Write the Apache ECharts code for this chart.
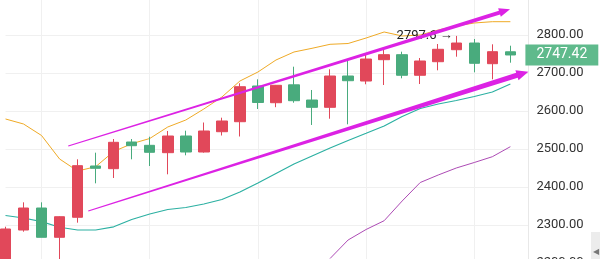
<!DOCTYPE html>
<html><head><meta charset="utf-8">
<script src="https://cdn.jsdelivr.net/npm/echarts@6/dist/echarts.min.js"></script>
<style>html,body{margin:0;padding:0;background:#fff}#c{width:600px;height:259px}</style>
</head><body><div id="c"></div>
<script>
// ---- data ----
const categories = ['1','2','3','4','5','6','7','8','9','10','11','12','13','14','15','16','17','18','19','20','21','22','23','24','25','26','27','28','29','30'];
const opens  = [2185, 2286.8, 2344.7, 2267.6, 2320.3, 2455.3, 2448.2, 2518.4, 2509.7, 2490.3, 2534.2, 2492.1, 2545.5, 2571.8, 2665.8, 2621.8, 2668.9, 2628.9, 2609.7, 2692.1, 2678.9, 2735.0, 2748.2, 2694.0, 2729.7, 2761.3, 2778.9, 2724.5, 2755.8];
const closes = [2289.5, 2344.7, 2267.6, 2321.8, 2456.1, 2449.2, 2517.6, 2508.7, 2491.3, 2534.2, 2492.1, 2547.4, 2573.7, 2663.9, 2622.4, 2667.6, 2627.1, 2609.7, 2692.1, 2679.7, 2736.8, 2748.2, 2694.0, 2731.6, 2762.4, 2778.9, 2725.5, 2756.1, 2747.42];
const lows   = [2170, 2282.4, 2267.6, 2195, 2306.1, 2409.7, 2423.7, 2472.9, 2455.3, 2433.4, 2483.4, 2490.5, 2535.5, 2532.9, 2605.3, 2610.0, 2621.8, 2563.2, 2579.7, 2565.0, 2670.3, 2668.4, 2686.0, 2671.0, 2707.1, 2742.9, 2701.8, 2683.4, 2727.1];
const highs  = [2295.5, 2359.7, 2359.7, 2322.9, 2472.9, 2490.3, 2526.3, 2526.3, 2532.4, 2547.4, 2548.2, 2569.7, 2582.4, 2672.9, 2683.4, 2668.5, 2716.6, 2655.3, 2709.7, 2734.2, 2747.4, 2762.4, 2756.1, 2739.5, 2776.3, 2797.6, 2789.5, 2775.5, 2771.8];
const maShort = [2579, 2565.8, 2535.5, 2473.7, 2442.1, 2453.4, 2493.4, 2513.9, 2527.6, 2557.9, 2576.3, 2605.3, 2636.8, 2678.9, 2702.6, 2734.2, 2755.3, 2765, 2775.5, 2777.6, 2792.1, 2807.9, 2797.4, 2800, 2813.2, 2823.7, 2831.6, 2835, 2835];
const maMid   = [2325, 2318.4, 2308.7, 2294, 2286.8, 2286.8, 2295.3, 2314.5, 2328.9, 2340.8, 2346.1, 2355.3, 2367.1, 2386.8, 2410.5, 2435.5, 2460.5, 2481.6, 2502.6, 2522.4, 2541.3, 2560.5, 2585.5, 2606.6, 2618.4, 2627.6, 2638.2, 2650, 2671.1];
const maLong  = ['-','-','-','-','-','-','-','-','-','-','-','-','-','-','-','-','-','-', 2211.8, 2260.5, 2288.2, 2311.3, 2363.2, 2411.8, 2431.6, 2450, 2464.5, 2479.7, 2506.1];
const lastPrice = 2747.42;
const highIndex = 25;
const highValue = 2797.6;
// trend arrows: [startIndex, startValue, endIndex, endValue]
const trendUpper = [3.48, 2507.9, 27.98, 2867.6];
const trendLower = [4.59, 2336.8, 29.0, 2703.4];
const yMin = 2200, yMax = 2900, yStep = 100;

const candles = opens.map((o, i) => [o, closes[i], lows[i], highs[i]]);

const UP = '#e1485a', DOWN = '#49ab7d', MAG = '#dc22e4';

const chart = echarts.init(document.getElementById('c'), null, {renderer: 'canvas'});
chart.setOption({
  animation: false,
  backgroundColor: '#ffffff',
  textStyle: {fontFamily: 'Roboto, "Liberation Sans", sans-serif'},
  grid: {left: 5.5, width: 522.9, top: -3, height: 266, containLabel: false, outerBoundsMode: 'none'},
  xAxis: {
    type: 'category', data: categories, boundaryGap: false,
    axisLine: {show: false}, axisTick: {show: false}, axisLabel: {show: false},
    splitLine: {show: true, interval: (idx) => (idx - 2) % 6 === 0, lineStyle: {color: '#f0f0f0', width: 1}}
  },
  yAxis: {
    type: 'value', position: 'right', min: yMin, max: yMax, interval: yStep, scale: true,
    axisLine: {show: true, lineStyle: {color: '#e8e8e8'}},
    axisTick: {show: false},
    axisLabel: {margin: 8, color: '#333', fontSize: 13, showMaxLabel: false, formatter: v => v.toFixed(2)},
    splitLine: {lineStyle: {color: '#f0f0f0', width: 1}}
  },
  series: [
    {
      type: 'candlestick', data: candles, barWidth: 11, z: 3,
      itemStyle: {color: UP, borderColor: UP, color0: DOWN, borderColor0: DOWN, borderWidth: 1},
      markLine: {
        silent: true, symbol: ['none', 'none'], animation: false,
        lineStyle: {color: 'rgba(0,0,0,0)', width: 0},
        data: [{yAxis: lastPrice}],
        label: {show: true, position: 'end', distance: -3, formatter: () => lastPrice.toFixed(2),
          color: '#fff', fontSize: 14, backgroundColor: '#5fba8c', padding: [3, 11, 3, 11], lineHeight: 15}
      },
      markPoint: {
        silent: true, symbol: 'circle', symbolSize: 1, itemStyle: {color: 'rgba(0,0,0,0)'},
        data: [{coord: [highIndex, highValue], value: highValue}],
        label: {show: true, position: 'left', distance: 3, color: '#222', fontSize: 13,
          formatter: () => highValue + ' \u2192'}
      }
    },
    {type: 'line', data: maShort, symbol: 'none', smooth: false, lineStyle: {color: '#efaa26', width: 1}, z: 2},
    {type: 'line', data: maMid, symbol: 'none', smooth: false, lineStyle: {color: '#2cb0a2', width: 1.2}, z: 2},
    {type: 'line', data: maLong, symbol: 'none', smooth: false, lineStyle: {color: '#ad4bb5', width: 1}, z: 2},
    {
      type: 'custom', coordinateSystem: 'cartesian2d', silent: true, z: 6, clip: false,
      data: [trendUpper.concat([0]), trendLower.concat([0])],
      encode: {x: 4, y: [1, 3]},
      renderItem: function (params, api) {
        const x1 = api.value(0), y1 = api.value(1), x2 = api.value(2), y2 = api.value(3);
        const c0 = api.coord([0, y1]), c1 = api.coord([1, y1]);
        const step = c1[0] - c0[0];
        const a = [c0[0] + x1 * step, c0[1]];
        const e0 = api.coord([0, y2]);
        const b = [e0[0] + x2 * step, e0[1]];
        const dx = b[0] - a[0], dy = b[1] - a[1];
        const L = Math.sqrt(dx * dx + dy * dy);
        const d = [dx / L, dy / L], n = [-d[1], d[0]];
        const w0 = 1.2, w1 = params.dataIndex === 0 ? 4 : 5.2;
        const H = params.dataIndex === 0 ? 11 : 12, HW = params.dataIndex === 0 ? 4.5 : 5.2;
        const c = [b[0] - d[0] * H, b[1] - d[1] * H];
        const P = (p, k) => [p[0] + n[0] * k, p[1] + n[1] * k];
        return {
          type: 'polygon',
          shape: {points: [P(a, w0 / 2), P(c, w1 / 2), P(c, HW), b, P(c, -HW), P(c, -w1 / 2), P(a, -w0 / 2)]},
          style: {fill: MAG}
        };
      }
    }
  ],
  graphic: [
    {type: 'rect', right: 0, bottom: 0, shape: {width: 9, height: 27}, style: {fill: '#ececec'}, silent: true},
    {type: 'text', right: 1, bottom: 3, style: {text: '\u25C0', fill: '#777', fontSize: 8}, silent: true}
  ]
});
</script>
</body></html>
